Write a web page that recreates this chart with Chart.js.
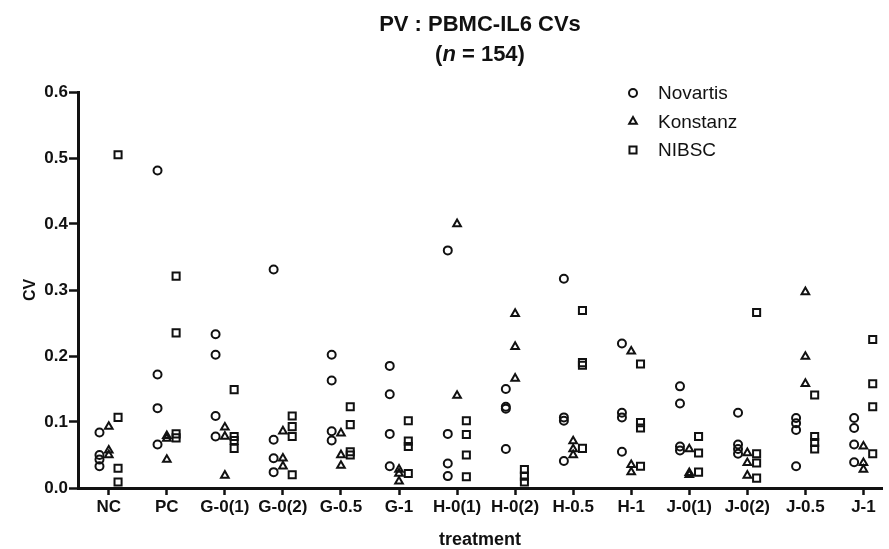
<!DOCTYPE html>
<html>
<head>
<meta charset="utf-8">
<script src="https://cdn.jsdelivr.net/npm/chart.js@4"></script>
<style>
  html, body { margin: 0; padding: 0; background: #fff; }
  #wrap { width: 889px; height: 549px; }
</style>
</head>
<body>
<div id="wrap"><canvas id="grafico"></canvas></div>
<script>
// categorias do eixo x
const categories = ['NC', 'PC', 'G-0(1)', 'G-0(2)', 'G-0.5', 'G-1', 'H-0(1)',
  'H-0(2)', 'H-0.5', 'H-1', 'J-0(1)', 'J-0(2)', 'J-0.5', 'J-1']

// CVs, um array por tratamento
const novartis = [
  [0.084, 0.050, 0.043, 0.033],
  [0.481, 0.172, 0.121, 0.066],
  [0.233, 0.202, 0.109, 0.078],
  [0.331, 0.073, 0.045, 0.024],
  [0.202, 0.163, 0.086, 0.072],
  [0.185, 0.142, 0.082, 0.033],
  [0.360, 0.082, 0.037, 0.018],
  [0.150, 0.123, 0.120, 0.059],
  [0.317, 0.107, 0.102, 0.041],
  [0.219, 0.114, 0.107, 0.055],
  [0.154, 0.128, 0.063, 0.057],
  [0.114, 0.066, 0.059, 0.052],
  [0.106, 0.098, 0.088, 0.033],
  [0.106, 0.091, 0.066, 0.039]
]
const konstanz = [
  [0.093, 0.057, 0.050],
  [0.079, 0.075, 0.043],
  [0.092, 0.078, 0.019],
  [0.086, 0.045, 0.033],
  [0.083, 0.050, 0.034],
  [0.028, 0.022, 0.010],
  [0.400, 0.140],
  [0.264, 0.214, 0.166],
  [0.071, 0.059, 0.050],
  [0.207, 0.035, 0.024],
  [0.059, 0.023, 0.020],
  [0.053, 0.038, 0.019],
  [0.297, 0.199, 0.158],
  [0.063, 0.038, 0.028]
]
const nibsc = [
  [0.505, 0.107, 0.030, 0.009],
  [0.321, 0.235, 0.082, 0.076],
  [0.149, 0.078, 0.072, 0.060],
  [0.109, 0.093, 0.078, 0.020],
  [0.123, 0.096, 0.055, 0.050],
  [0.102, 0.071, 0.063, 0.022],
  [0.102, 0.081, 0.050, 0.017],
  [0.028, 0.018, 0.009],
  [0.269, 0.190, 0.186, 0.060],
  [0.188, 0.099, 0.091, 0.033],
  [0.078, 0.053, 0.024],
  [0.266, 0.052, 0.038, 0.015],
  [0.141, 0.078, 0.069, 0.059],
  [0.225, 0.158, 0.123, 0.052]
]
const yTicks = [0, 0.1, 0.2, 0.3, 0.4, 0.5, 0.6]

const FONT = '"Liberation Sans", Arial, sans-serif'
const PRETO = '#111'

// cada laboratório fica um pouco deslocado dentro da categoria
function pontos(serie, desloc) {
  const out = []
  serie.forEach((vals, i) => vals.forEach(v => out.push({ x: i + desloc, y: v })))
  return out
}

function estilo(label, dados, forma, raio) {
  return {
    label,
    data: dados,
    pointStyle: forma,
    pointRadius: raio,
    pointHoverRadius: raio,
    pointBorderWidth: 2,
    borderColor: PRETO,
    backgroundColor: 'rgba(0,0,0,0)',
    showLine: false
  }
}

const data = {
  datasets: [
    estilo('Novartis', pontos(novartis, -0.16), 'circle', 4),
    estilo('Konstanz', pontos(konstanz, 0), 'triangle', 4.4),
    estilo('NIBSC', pontos(nibsc, 0.16), 'rect', 5)
  ]
}

// título em duas linhas, com o n em itálico
const cabecalho = {
  id: 'cabecalho',
  afterDraw(chart) {
    const c = chart.ctx
    const cx = (chart.chartArea.left + chart.chartArea.right) / 2
    c.save()
    c.fillStyle = PRETO
    c.textBaseline = 'middle'
    c.textAlign = 'center'
    c.font = 'bold 22px ' + FONT
    c.fillText('PV : PBMC-IL6 CVs', cx, 25)
    const partes = [['(', 'bold '], ['n', 'italic bold '], [' = 154)', 'bold ']]
    let total = 0
    partes.forEach(p => { c.font = p[1] + '22px ' + FONT; total += c.measureText(p[0]).width })
    let x = cx - total / 2
    c.textAlign = 'left'
    partes.forEach(p => {
      c.font = p[1] + '22px ' + FONT
      c.fillText(p[0], x, 55)
      x += c.measureText(p[0]).width
    })
    c.restore()
  }
}

// legenda dentro da área do gráfico, canto superior direito
const legenda = {
  id: 'legenda',
  afterDraw(chart) {
    const c = chart.ctx
    c.save()
    chart.data.datasets.forEach((ds, i) => {
      const y = 93 + i * 28.5
      c.strokeStyle = PRETO
      c.fillStyle = 'rgba(0,0,0,0)'
      c.lineWidth = 2
      Chart.helpers.drawPoint(c, { pointStyle: ds.pointStyle, radius: ds.pointRadius, borderWidth: 2 }, 633, y)
      c.fillStyle = PRETO
      c.font = '19px ' + FONT
      c.textBaseline = 'middle'
      c.fillText(ds.label, 658, y + 1)
    })
    c.restore()
  }
}

const config = {
  type: 'scatter',
  data,
  options: {
    responsive: true,
    maintainAspectRatio: false,
    animation: false,
    layout: { padding: { top: 92, right: 0, left: 0, bottom: 0 } },
    plugins: {
      legend: { display: false },
      tooltip: { enabled: false }
    },
    scales: {
      x: {
        type: 'linear',
        min: -0.53,
        max: 13.32,
        afterBuildTicks: scale => { scale.ticks = categories.map((c, i) => ({ value: i })) },
        afterFit: scale => { scale.height = 61 },
        border: { color: PRETO, width: 3 },
        grid: { drawOnChartArea: false, drawTicks: true, tickLength: 7, tickWidth: 2.5, tickColor: PRETO },
        ticks: {
          autoSkip: false,
          maxRotation: 0,
          color: PRETO,
          padding: 2,
          font: { family: FONT, size: 17, weight: 'bold' },
          callback: v => categories[v]
        },
        title: {
          display: true,
          text: 'treatment',
          color: PRETO,
          padding: { top: 0, bottom: 0 },
          font: { family: FONT, size: 18, weight: 'bold', lineHeight: 1 }
        }
      },
      y: {
        min: 0,
        max: 0.6,
        afterBuildTicks: scale => { scale.ticks = yTicks.map(v => ({ value: v })) },
        afterFit: scale => { scale.width = 78 },
        border: { color: PRETO, width: 3 },
        grid: { drawOnChartArea: false, drawTicks: true, tickLength: 9, tickWidth: 2.5, tickColor: PRETO },
        ticks: {
          color: PRETO,
          padding: 1,
          font: { family: FONT, size: 17, weight: 'bold' },
          callback: v => v.toFixed(1)
        },
        title: {
          display: true,
          text: 'CV',
          color: PRETO,
          padding: { top: 21 },
          font: { family: FONT, size: 16, weight: 'bold', lineHeight: 1.2 }
        }
      }
    }
  },
  plugins: [cabecalho, legenda]
}

const grafico = new Chart(document.getElementById('grafico'), config)
</script>
</body>
</html>
